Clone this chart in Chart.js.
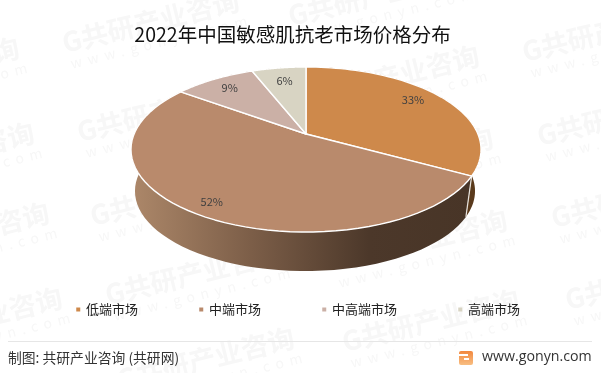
<!DOCTYPE html>
<html lang="zh">
<head>
<meta charset="UTF-8">
<title>2022年中国敏感肌抗老市场价格分布</title>
<script src="https://cdn.jsdelivr.net/npm/chart.js"></script>
<style>
  html, body { margin: 0; padding: 0; background: #fff; }
  canvas { display: block; }
</style>
</head>
<body>
<canvas id="grafica" width="601" height="373"></canvas>
<script>
const categories = ['低端市场', '中端市场', '中高端市场', '高端市场'];
const shares = [33, 52, 9, 6];
const colors = ['#CE894B', '#B98A6C', '#CBB0A6', '#D8D4C3'];

const FONT = '"Noto Sans CJK SC", "Noto Sans", sans-serif';

// tilted disc: circle point (u,v) -> screen, with perspective so the apex sits above the ellipse centre
const K = 0.188;
const topDisc = { x: 306, y: 134, a: 171.9, b: 79.6 };
const baseDisc = { x: 305, y: 176, a: 167, b: 77.2 };

function project(disc, ang, r) {
    const u = Math.cos(ang) * r, v = Math.sin(ang) * r;
    const w = 1 - K * v;
    return [disc.x + disc.a * u / w, disc.y + disc.b * v / w];
}

function wallFill(ctx, i) {
    const g = ctx.createLinearGradient(133, 0, 470, 0);
    if (i === 0) {
        g.addColorStop(0, '#5A3A1C');
        g.addColorStop(1, '#5A3A1C');
    } else {
        g.addColorStop(0, '#AC8769');
        g.addColorStop(0.35, '#7C5E48');
        g.addColorStop(0.7, '#4C382A');
        g.addColorStop(1, '#483527');
    }
    return g;
}

const pie3d = {
    id: 'pie3d',
    beforeDatasetsDraw(chart) {
        const ctx = chart.ctx;
        const arcs = chart.getDatasetMeta(0).data;
        const steps = 60;

        // side wall first, the top face covers the back of it
        arcs.forEach((arc, i) => {
            ctx.beginPath();
            for (let s = 0; s <= steps; s++) {
                const p = project(topDisc, arc.startAngle + (arc.endAngle - arc.startAngle) * s / steps, 1);
                s ? ctx.lineTo(p[0], p[1]) : ctx.moveTo(p[0], p[1]);
            }
            for (let s = steps; s >= 0; s--) {
                const p = project(baseDisc, arc.startAngle + (arc.endAngle - arc.startAngle) * s / steps, 1);
                ctx.lineTo(p[0], p[1]);
            }
            ctx.closePath();
            ctx.fillStyle = wallFill(ctx, i);
            ctx.fill();
        });

        // white seam between the low and mid walls
        const seam = arcs[0].endAngle;
        const s0 = project(topDisc, seam, 1), s1 = project(baseDisc, seam, 1);
        ctx.beginPath();
        ctx.moveTo(s0[0], s0[1]);
        ctx.lineTo(s1[0], s1[1]);
        ctx.strokeStyle = '#E8E4DE';
        ctx.lineWidth = 1.2;
        ctx.stroke();

        // top face
        arcs.forEach((arc, i) => {
            ctx.beginPath();
            ctx.moveTo(topDisc.x, topDisc.y);
            for (let s = 0; s <= steps; s++) {
                const p = project(topDisc, arc.startAngle + (arc.endAngle - arc.startAngle) * s / steps, 1);
                ctx.lineTo(p[0], p[1]);
            }
            ctx.closePath();
            ctx.fillStyle = colors[i];
            ctx.fill();
            ctx.strokeStyle = '#fff';
            ctx.lineWidth = 1.4;
            ctx.lineJoin = 'round';
            ctx.stroke();
        });

        // percent labels
        const nudge = [[-3, -4], [0, -1], [-1, -1], [1, 1]];
        ctx.font = '11px ' + FONT;
        ctx.fillStyle = '#404040';
        ctx.textAlign = 'center';
        ctx.textBaseline = 'middle';
        arcs.forEach((arc, i) => {
            const p = project(topDisc, (arc.startAngle + arc.endAngle) / 2, i === 1 ? 0.88 : 0.8);
            ctx.fillText(shares[i] + '%', p[0] + nudge[i][0], p[1] + nudge[i][1]);
        });
        return false;
    }
};

// pale repeating marks behind the chart
const watermarkAt = [
    [-155, 100], [-140, 185], [-125, 265], [-112, 350],
    [65, 53], [80, 142], [93, 226], [108, 305], [120, 390],
    [291, 26], [305, 108], [319, 190], [333, 272], [345, 352],
    [525, 62], [540, 146], [554, 228], [568, 310]
];

const backdrop = {
    id: 'backdrop',
    beforeDraw(chart) {
        const ctx = chart.ctx;
        ctx.save();
        ctx.fillStyle = '#fff';
        ctx.fillRect(0, 0, chart.width, chart.height);
        watermarkAt.forEach(w => {
            ctx.save();
            ctx.translate(w[0], w[1]);
            ctx.rotate(-0.24);
            ctx.fillStyle = '#F7F7F7';
            ctx.font = 'bold 27px ' + FONT;
            ctx.textAlign = 'left';
            ctx.textBaseline = 'alphabetic';
            ctx.fillText('G共研产业咨询', 0, 0);
            ctx.font = '14px ' + FONT;
            ctx.letterSpacing = '6px';
            ctx.fillText('www.gonyn.com', 3, 17);
            ctx.restore();
        });
        ctx.restore();
    },
    afterLayout(chart) {
        // move the two blocks to where the reference has them
        chart.titleBlock.left -= 16;
        chart.legend.top = 241;
        chart.legend.left -= 2;
        chart.legend.right -= 2;
    },
    afterDraw(chart) {
        const ctx = chart.ctx;
        ctx.save();
        ctx.strokeStyle = '#E6E6E6';
        ctx.lineWidth = 1;
        ctx.beginPath();
        ctx.moveTo(8, 341.5);
        ctx.lineTo(592, 341.5);
        ctx.stroke();

        ctx.fillStyle = '#333';
        ctx.font = '13.8px ' + FONT;
        ctx.textAlign = 'left';
        ctx.textBaseline = 'middle';
        ctx.fillText('制图: 共研产业咨询 (共研网)', 8, 358);
        ctx.font = '14.2px "Open Sans", sans-serif';
        ctx.fillText('www.gonyn.com', 482, 357);

        // small logo
        const lg = ctx.createLinearGradient(0, 351, 0, 365);
        lg.addColorStop(0, '#F2883E');
        lg.addColorStop(1, '#F8BE82');
        ctx.fillStyle = lg;
        ctx.beginPath();
        ctx.roundRect(459, 351, 14, 14, 2);
        ctx.fill();
        ctx.fillStyle = '#fff';
        ctx.fillRect(459, 354, 9, 2);
        ctx.fillRect(464, 358, 5, 2);
        ctx.restore();
    }
};

new Chart(document.getElementById('grafica'), {
    type: 'pie',
    data: {
        labels: categories,
        datasets: [{ data: shares, backgroundColor: colors, borderWidth: 0 }]
    },
    options: {
        responsive: false,
        animation: false,
        layout: { padding: 0 },
        plugins: {
            tooltip: { enabled: false },
            title: {
                display: true,
                text: '2022年中国敏感肌抗老市场价格分布',
                color: '#111',
                font: { family: FONT, size: 19.5, weight: 'normal' },
                padding: { top: 23, bottom: 10 }
            },
            legend: {
                position: 'bottom',
                labels: {
                    usePointStyle: true,
                    pointStyle: 'rect',
                    boxWidth: 2.5,
                    boxHeight: 4,
                    padding: 62,
                    color: '#222',
                    font: { family: FONT, size: 13 }
                }
            }
        }
    },
    plugins: [backdrop, pie3d]
});
</script>
</body>
</html>
